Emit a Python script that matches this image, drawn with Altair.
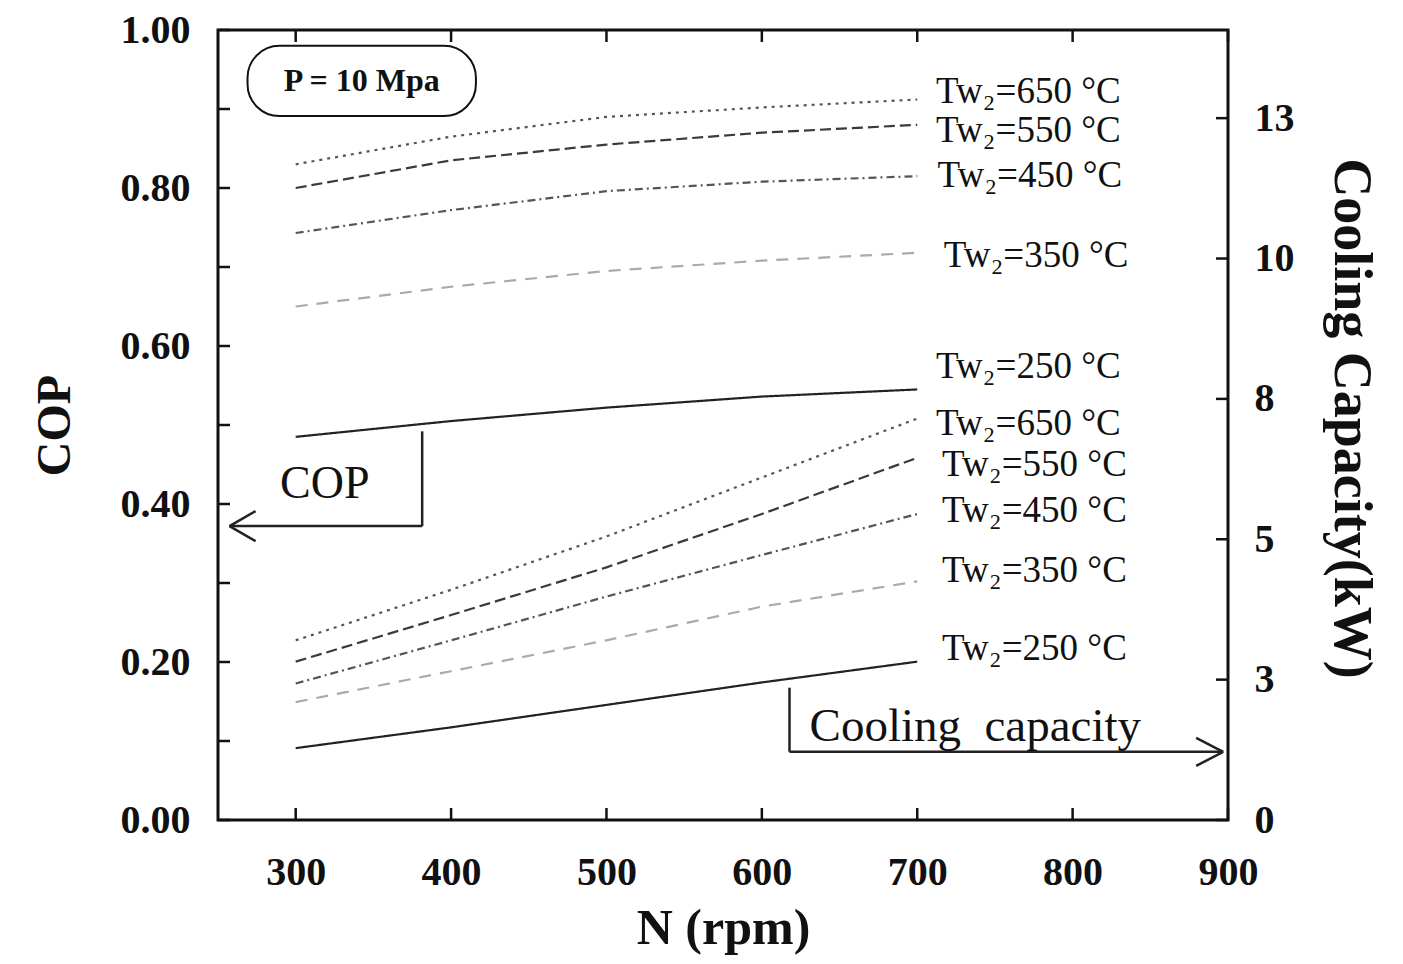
import altair as alt
import pandas as pd

# ---------------- data ----------------
rpm = [300, 400, 500, 600, 700]
series = ["650", "550", "450", "350", "250"]

cop_650 = [0.830, 0.865, 0.890, 0.902, 0.912]
cop_550 = [0.800, 0.835, 0.855, 0.870, 0.880]
cop_450 = [0.743, 0.772, 0.796, 0.808, 0.815]
cop_350 = [0.650, 0.675, 0.695, 0.708, 0.718]
cop_250 = [0.485, 0.505, 0.522, 0.536, 0.545]

cap_650 = [3.20, 4.10, 5.05, 6.10, 7.15]
cap_550 = [2.82, 3.65, 4.50, 5.45, 6.45]
cap_450 = [2.43, 3.20, 3.98, 4.72, 5.45]
cap_350 = [2.10, 2.65, 3.20, 3.80, 4.25]
cap_250 = [1.28, 1.65, 2.05, 2.45, 2.82]

cop_ticks = [0.0, 0.1, 0.2, 0.3, 0.4, 0.5, 0.6, 0.7, 0.8, 0.9, 1.0]
cop_labels = [0.0, 0.2, 0.4, 0.6, 0.8, 1.0]
cap_ticks = [0.0, 2.5, 5.0, 7.5, 10.0, 12.5]
x_ticks = [300, 400, 500, 600, 700, 800, 900]

# curve labels (position in rpm / COP units)
lab_text = ["Tw₂=650 °C", "Tw₂=550 °C", "Tw₂=450 °C", "Tw₂=350 °C", "Tw₂=250 °C",
            "Tw₂=650 °C", "Tw₂=550 °C", "Tw₂=450 °C", "Tw₂=350 °C", "Tw₂=250 °C"]
lab_x = [712, 712, 713, 717, 712, 712, 716, 716, 716, 716]
lab_y = [0.922, 0.872, 0.815, 0.714, 0.574, 0.501, 0.450, 0.391, 0.315, 0.216]

# annotation geometry (rpm / COP units)
box_x = [269]; box_x2 = [416]; box_y = [0.980]; box_y2 = [0.891]
cop_arrow_x = [381.4, 381.4, 257.4, 257.4]
cop_arrow_x2 = [381.4, 257.4, 274.2, 274.2]
cop_arrow_y = [0.492, 0.372, 0.372, 0.372]
cop_arrow_y2 = [0.372, 0.372, 0.391, 0.353]
cap_arrow_x = [617.8, 617.8, 896.9, 896.9]
cap_arrow_x2 = [617.8, 896.9, 879.5, 879.5]
cap_arrow_y = [0.1675, 0.0863, 0.0863, 0.0863]
cap_arrow_y2 = [0.0863, 0.0863, 0.104, 0.0685]

# ---------------- tables ----------------
cop_vals = [cop_650, cop_550, cop_450, cop_350, cop_250]
cap_vals = [cap_650, cap_550, cap_450, cap_350, cap_250]
cop_df = pd.DataFrame([{"N": n, "COP": v, "s": s}
                       for s, vals in zip(series, cop_vals) for n, v in zip(rpm, vals)])
cap_df = pd.DataFrame([{"N": n, "CAP": v, "s": s}
                       for s, vals in zip(series, cap_vals) for n, v in zip(rpm, vals)])
lab_df = pd.DataFrame({"x": lab_x, "y": lab_y, "t": lab_text})
box_df = pd.DataFrame({"x": box_x, "x2": box_x2, "y": box_y, "y2": box_y2,
                       "xc": [(box_x[0] + box_x2[0]) / 2], "yc": [(box_y[0] + box_y2[0]) / 2],
                       "t": ["P = 10 Mpa"]})
arrows_df = pd.DataFrame({"x": cop_arrow_x + cap_arrow_x, "x2": cop_arrow_x2 + cap_arrow_x2,
                          "y": cop_arrow_y + cap_arrow_y, "y2": cop_arrow_y2 + cap_arrow_y2})
ann_df = pd.DataFrame({"x": [318.7, 630.7], "y": [0.425, 0.118],
                       "t": ["COP", "Cooling\u00a0\u00a0capacity"]})

W, H = 1010, 790
FONT = "Liberation Serif"

x_scale = alt.Scale(domain=[250, 900], nice=False, zero=False)
cop_scale = alt.Scale(domain=[0, 1], nice=False, zero=False)
cap_scale = alt.Scale(domain=[0, 14.07], nice=False, zero=False)

x_axis = alt.Axis(values=x_ticks, title="N (rpm)", ticks=False, domain=False, grid=False,
                  labelFont=FONT, labelFontWeight="bold", labelFontSize=40, labelColor="#111",
                  labelPadding=32, labelFlush=False, labelOverlap=False,
                  titleFont=FONT, titleFontWeight="bold", titleFontSize=50, titleColor="#111",
                  titleY=108, titleBaseline="middle")
y_left_axis = alt.Axis(values=cop_labels, title="COP", ticks=False, domain=False, grid=False,
                       labelExpr="format(datum.value, '.2f')",
                       labelFont=FONT, labelFontWeight="bold", labelFontSize=40, labelColor="#111",
                       labelPadding=28, labelFlush=False, labelOverlap=False,
                       titleFont=FONT, titleFontWeight="bold", titleFontSize=48, titleColor="#111",
                       titleX=-163, titleY=395, titleAngle=-90, titleAlign="center",
                       titleBaseline="middle")
y_right_axis = alt.Axis(values=cap_ticks, title="Cooling Capacity(kW)", orient="right",
                        ticks=False, domain=False, grid=False,
                        labelExpr="format(round(datum.value), 'd')",
                        labelFont=FONT, labelFontWeight="bold", labelFontSize=40, labelColor="#111",
                        labelPadding=26, labelFlush=False, labelOverlap=False,
                        titleFont=FONT, titleFontWeight="bold", titleFontSize=54, titleColor="#111",
                        titleX=122, titleY=388, titleAngle=90, titleAlign="center",
                        titleBaseline="middle")

dash = alt.StrokeDash("s:N", scale=alt.Scale(domain=series,
                      range=[[3, 5], [11, 5], [8, 4, 2, 4], [12, 9], [1, 0]]), legend=None)
col = alt.Color("s:N", scale=alt.Scale(domain=series,
                range=["#555555", "#3a3a3a", "#555555", "#aaaaaa", "#222222"]), legend=None)

X = lambda f: alt.X(f, type="quantitative", scale=x_scale, axis=x_axis)
YL = lambda f: alt.Y(f, type="quantitative", scale=cop_scale, axis=y_left_axis)
YR = lambda f: alt.Y(f, type="quantitative", scale=cap_scale, axis=y_right_axis)

cop_lines = alt.Chart(cop_df).mark_line(strokeWidth=2.2).encode(
    x=X("N"), y=YL("COP"), strokeDash=dash, color=col, detail="s:N")

cap_lines = alt.Chart(cap_df).mark_line(strokeWidth=2.2).encode(
    x=X("N"), y=YR("CAP"), strokeDash=dash, color=col, detail="s:N")

labels = alt.Chart(lab_df).mark_text(align="left", baseline="middle", font=FONT,
                                     fontSize=37, color="#111").encode(
    x=X("x"), y=YL("y"), text="t:N")

box = alt.Chart(box_df).mark_rect(cornerRadius=32, fill="white", stroke="#111",
                                  strokeWidth=2).encode(
    x=X("x"), x2="x2", y=YL("y"), y2="y2")
box_text = alt.Chart(box_df).mark_text(font=FONT, fontWeight="bold", fontSize=32,
                                       color="#111", baseline="middle").encode(
    x=X("xc"), y=YL("yc"), text="t:N")

arrows = alt.Chart(arrows_df).mark_rule(strokeWidth=2.5, color="#222").encode(
    x=X("x"), x2="x2", y=YL("y"), y2="y2")
ann_cop = alt.Chart(ann_df.iloc[[0]]).mark_text(font=FONT, fontSize=46, color="#111",
                                                align="center", baseline="middle").encode(
    x=X("x"), y=YL("y"), text="t:N")
ann_cap = alt.Chart(ann_df.iloc[[1]]).mark_text(font=FONT, fontSize=47, color="#111",
                                                align="left", baseline="middle").encode(
    x=X("x"), y=YL("y"), text="t:N")

left_ticks = alt.Chart(pd.DataFrame({"v": cop_ticks})).mark_rule(strokeWidth=2.5, color="#111").encode(
    y=YL("v"), x=alt.value(0), x2=alt.value(12))
bottom_ticks = alt.Chart(pd.DataFrame({"v": x_ticks})).mark_rule(strokeWidth=2.5, color="#111").encode(
    x=X("v"), y=alt.value(H - 12), y2=alt.value(H))
top_ticks = alt.Chart(pd.DataFrame({"v": x_ticks})).mark_rule(strokeWidth=2.5, color="#111").encode(
    x=X("v"), y=alt.value(0), y2=alt.value(12))
right_ticks = alt.Chart(pd.DataFrame({"v": cap_ticks})).mark_rule(strokeWidth=2.5, color="#111").encode(
    y=YR("v"), x=alt.value(W - 12), x2=alt.value(W))

left_layer = alt.layer(cop_lines, labels, box, box_text, arrows, ann_cop, ann_cap,
                       left_ticks, bottom_ticks, top_ticks)
right_layer = alt.layer(cap_lines, right_ticks)

chart = alt.layer(left_layer, right_layer).resolve_scale(
    y="independent", color="shared", strokeDash="shared"
).properties(
    width=W, height=H,
    padding={"left": 218, "top": 30, "right": 175, "bottom": 144},
    autosize=alt.AutoSizeParams(type="none"),
    background="white",
).configure_view(stroke="#111", strokeWidth=3)

chart.save("out.html", embed_options={"renderer": "svg", "actions": False})
